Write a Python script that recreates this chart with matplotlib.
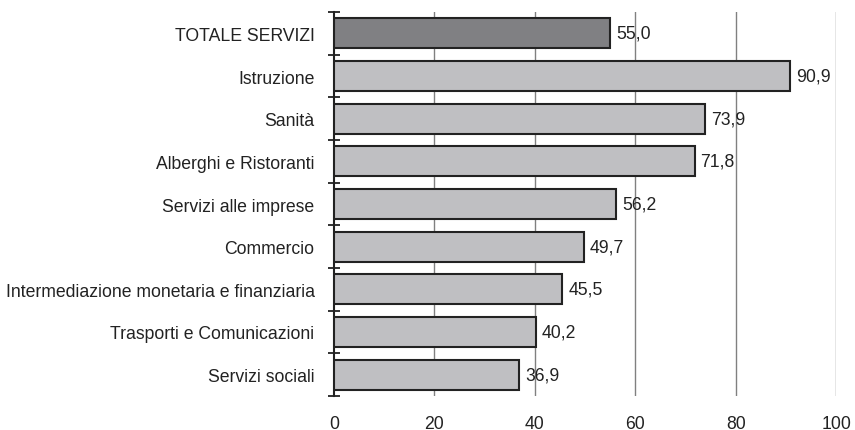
import numpy as np
import matplotlib.pyplot as plt

plt.rcParams['font.family'] = ['Liberation Sans', 'DejaVu Sans']

categories = ["TOTALE SERVIZI", "Istruzione", "Sanità", "Alberghi e Ristoranti",
              "Servizi alle imprese", "Commercio",
              "Intermediazione monetaria e finanziaria",
              "Trasporti e Comunicazioni", "Servizi sociali"]
values = [55.0, 90.9, 73.9, 71.8, 56.2, 49.7, 45.5, 40.2, 36.9]
xticks = [0, 20, 40, 60, 80, 100]

fig = plt.figure(figsize=(8.55, 4.31), dpi=100)
ax = fig.add_axes([0.3906, 0.0789, 0.5874, 0.8909])

y = np.arange(len(categories))
colors = ["#808083"] + ["#bfbfc2"] * (len(categories) - 1)
ax.barh(y, values, height=0.7, color=colors, edgecolor="#222222", linewidth=1.5, zorder=3)

fs = 12.7
for yi, v in zip(y, values):
    ax.text(v + 1.2, yi, "{:.1f}".format(v).replace(".", ","), va="center", ha="left",
            fontsize=fs, color="#222222", zorder=4)

ax.set_xlim(0, 100)
ax.set_ylim(len(categories) - 0.5, -0.5)
ax.set_xticks(xticks)
ax.set_xticklabels([str(t) for t in xticks], fontsize=fs, color="#222222")
ax.set_yticks(y)
ax.set_yticklabels(categories, fontsize=fs, color="#222222")
ax.set_yticks(np.arange(-0.5, len(categories), 1), minor=True)

ax.tick_params(axis="x", length=0, pad=13.5)
ax.tick_params(axis="y", which="major", length=0, pad=14)
ax.tick_params(axis="y", which="minor", length=8, width=1.3, color="#222222", direction="inout")

for t in xticks[1:]:
    ax.axvline(t, color="#808080", linewidth=1, zorder=1)

for s in ["top", "right", "bottom"]:
    ax.spines[s].set_visible(False)
ax.spines["left"].set_linewidth(1.5)
ax.spines["left"].set_color("#222222")

fig.savefig("out.png", dpi=100)
